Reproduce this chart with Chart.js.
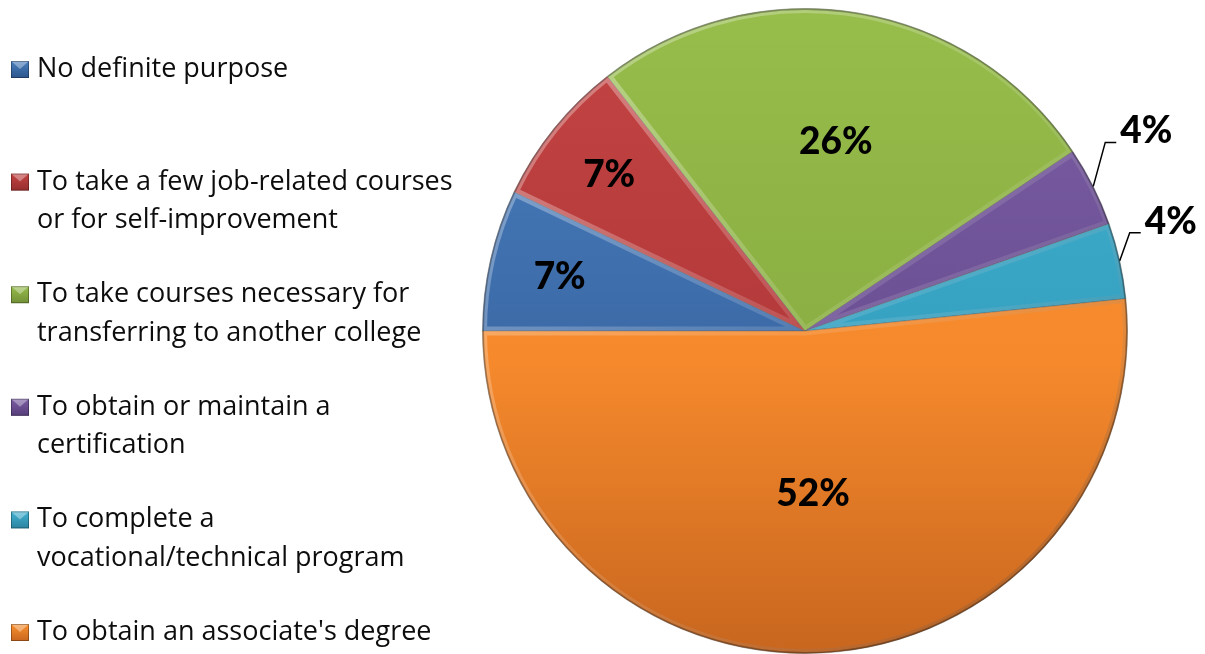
<!DOCTYPE html>
<html>
<head>
<meta charset="utf-8">
<script src="https://cdn.jsdelivr.net/npm/chart.js@4.4.0/dist/chart.umd.min.js"></script>
<style>
  html, body { margin: 0; padding: 0; background: #fff; }
  #wrap { width: 1205px; height: 654px; }
</style>
</head>
<body>
<div id="wrap"><canvas id="chart" width="1205" height="654"></canvas></div>
<script>
// categories (line breaks as in the legend)
const categories = [
    ["No definite purpose"],
    ["To take a few job-related courses", "or for self-improvement"],
    ["To take courses necessary for", "transferring to another college"],
    ["To obtain or maintain a", "certification"],
    ["To complete a", "vocational/technical program"],
    ["To obtain an associate's degree"]
];
// share of respondents, percent
const shares = [7.1, 7.4, 26.1, 4.0, 3.8, 51.6];

// slice colours: light (top), mid, dark (bottom)
const sliceColors = [
    ["#4a7fbf", "#3b69a6", "#2a558a"],
    ["#c44443", "#b3393a", "#962e2e"],
    ["#97bd4b", "#8aae42", "#728f36"],
    ["#7b5ea4", "#6b4f93", "#573d7a"],
    ["#44b2d2", "#35a0c0", "#2a84a0"],
    ["#fb922f", "#f5892c", "#c8661f"]
];

document.addEventListener("DOMContentLoaded", function () {

    const canvas = document.getElementById("chart");

    function sliceFill(context) {
        const chart = context.chart;
        const area = chart.chartArea;
        const pair = sliceColors[context.dataIndex];
        if (!area) return pair[1];
        const g = chart.ctx.createLinearGradient(0, area.top, 0, area.bottom);
        g.addColorStop(0, pair[0]);
        g.addColorStop(0.55, pair[1]);
        g.addColorStop(1, pair[2]);
        return g;
    }

    // bevel-ish highlight inside each slice
    const bevel = {
        id: "bevel",
        afterDatasetsDraw(chart) {
            const c = chart.ctx;
            const area = chart.chartArea;
            chart.getDatasetMeta(0).data.forEach(function (arc) {
                const p = arc.getProps(["x", "y", "startAngle", "endAngle", "outerRadius"], true);
                c.save();
                c.beginPath();
                c.moveTo(p.x, p.y);
                c.arc(p.x, p.y, p.outerRadius, p.startAngle, p.endAngle);
                c.closePath();
                c.clip();
                const g = c.createLinearGradient(area.left, area.top, area.right, area.bottom);
                g.addColorStop(0, "rgba(255,255,255,0.4)");
                g.addColorStop(0.5, "rgba(255,255,255,0.12)");
                g.addColorStop(1, "rgba(0,0,0,0.25)");
                c.strokeStyle = g;
                c.lineWidth = 9;
                c.lineJoin = "round";
                c.stroke();
                c.lineWidth = 3;
                c.strokeStyle = "rgba(0,0,0,0.3)";
                c.beginPath();
                c.arc(p.x, p.y, p.outerRadius, p.startAngle, p.endAngle);
                c.stroke();
                c.restore();
            });
        }
    };

    // percentage labels, some inside, two outside with leader lines
    const pctLabels = {
        id: "pctLabels",
        afterDraw(chart, args, opts) {
            const c = chart.ctx;
            const meta = chart.getDatasetMeta(0);
            const total = shares.reduce(function (a, b) { return a + b; }, 0);
            c.save();
            c.font = "900 37px Lato, 'Open Sans', sans-serif";
            c.fillStyle = "#000";
            c.textBaseline = "middle";
            meta.data.forEach(function (arc, i) {
                const p = arc.getProps(["x", "y", "startAngle", "endAngle", "outerRadius"], true);
                const mid = (p.startAngle + p.endAngle) / 2;
                const text = Math.round(shares[i] / total * 100) + "%";
                const out = opts.outside[i];
                if (out) {
                    const sx = p.x + Math.cos(mid) * p.outerRadius;
                    const sy = p.y + Math.sin(mid) * p.outerRadius;
                    const ex = sx + out[0], ey = sy + out[1];
                    c.strokeStyle = "#000";
                    c.lineWidth = 1.5;
                    c.beginPath();
                    c.moveTo(sx, sy);
                    c.lineTo(ex, ey);
                    c.lineTo(ex + 11, ey);
                    c.stroke();
                    c.textAlign = "left";
                    c.fillText(text, ex + 15, ey - 11);
                } else {
                    const r = p.outerRadius * opts.radius[i];
                    c.textAlign = "center";
                    c.fillText(text, p.x + Math.cos(mid) * r, p.y + Math.sin(mid) * r + 2);
                }
            });
            c.restore();
        }
    };

    // legend on the left
    const sideLegend = {
        id: "sideLegend",
        afterDraw(chart) {
            const c = chart.ctx;
            c.save();
            c.font = "27px 'Open Sans', Lato, sans-serif";
            c.textBaseline = "alphabetic";
            c.textAlign = "left";
            categories.forEach(function (lines, i) {
                const base = 77 + i * 112.6;
                const pair = sliceColors[i];
                const g = c.createLinearGradient(0, base - 16, 0, base + 1);
                g.addColorStop(0, pair[0]);
                g.addColorStop(1, pair[2]);
                c.fillStyle = g;
                c.fillRect(11, base - 16, 18, 17);
                c.fillStyle = "rgba(255,255,255,0.35)";
                c.beginPath();
                c.moveTo(11, base - 16);
                c.lineTo(29, base - 16);
                c.lineTo(20, base - 8);
                c.closePath();
                c.fill();
                c.strokeStyle = "rgba(0,0,0,0.3)";
                c.lineWidth = 1;
                c.strokeRect(11.5, base - 15.5, 17, 16);
                c.fillStyle = "#0d0d0d";
                lines.forEach(function (line, k) {
                    c.fillText(line, 37, base + k * 38.5);
                });
            });
            c.restore();
        }
    };

    new Chart(canvas.getContext("2d"), {
        type: "pie",
        data: {
            labels: categories,
            datasets: [{
                data: shares,
                backgroundColor: sliceFill,
                borderColor: "rgba(60,60,60,0.35)",
                borderWidth: 1
            }]
        },
        options: {
            responsive: false,
            animation: false,
            rotation: -90,
            layout: { padding: { left: 482, right: 77, top: 8, bottom: 0 } },
            plugins: {
                legend: { display: false },
                tooltip: { enabled: false },
                pctLabels: {
                    radius: [0.78, 0.78, 0.6, 0, 0, 0.5],
                    outside: [null, null, null, [12, -44], [10, -28], null]
                }
            }
        },
        plugins: [bevel, pctLabels, sideLegend]
    });

});
</script>
</body>
</html>
